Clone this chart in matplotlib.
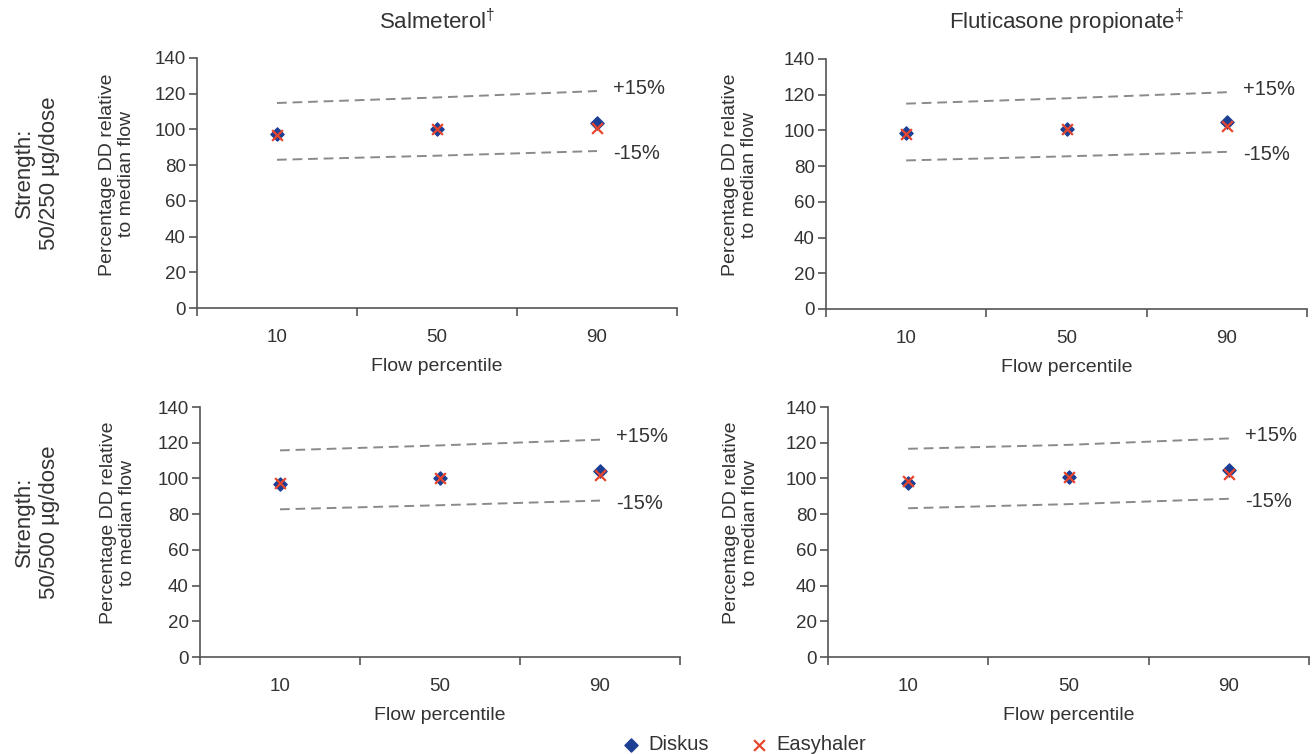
import matplotlib
matplotlib.use("Agg")
import matplotlib.pyplot as plt

plt.rcParams['font.family'] = ['Liberation Sans', 'DejaVu Sans']
plt.rcParams['mathtext.fontset'] = 'custom'
plt.rcParams['mathtext.rm'] = 'Liberation Sans'

percentiles = ["10", "50", "90"]
drugs = ["Salmeterol$^{\\dagger}$", "Fluticasone propionate$^{\\ddagger}$"]
strengths = ["Strength:\n50/250 \u00b5g/dose", "Strength:\n50/500 \u00b5g/dose"]

# Diskus / Easyhaler, percent delivered dose relative to median flow
diskus_sal_250 = [97.6, 100.0, 103.8]
easy_sal_250 = [97.0, 100.0, 100.8]
diskus_flu_250 = [98.3, 100.6, 104.9]
easy_flu_250 = [98.0, 100.6, 102.7]
diskus_sal_500 = [97.0, 100.1, 103.9]
easy_sal_500 = [97.5, 100.1, 101.8]
diskus_flu_500 = [97.7, 100.7, 104.8]
easy_flu_500 = [98.8, 100.7, 102.6]

# +/-15% limits
upper_sal_250 = [114.8, 117.9, 121.5]
lower_sal_250 = [83.0, 85.3, 87.9]
upper_flu_250 = [115.0, 118.0, 121.4]
lower_flu_250 = [83.2, 85.5, 88.0]
upper_sal_500 = [115.7, 118.5, 121.7]
lower_sal_500 = [82.7, 85.0, 87.6]
upper_flu_500 = [116.6, 118.8, 122.4]
lower_flu_500 = [83.3, 85.6, 88.6]

panels = [
    (diskus_sal_250, easy_sal_250, upper_sal_250, lower_sal_250),
    (diskus_flu_250, easy_flu_250, upper_flu_250, lower_flu_250),
    (diskus_sal_500, easy_sal_500, upper_sal_500, lower_sal_500),
    (diskus_flu_500, easy_flu_500, upper_flu_500, lower_flu_500),
]

W, H = 1314, 754
# axes boxes in pixels: left, top(y of 140), right, bottom(y of 0)
boxes = [
    (197, 58, 677, 308),
    (826, 59, 1307, 309),
    (200, 407, 680, 657),
    (828, 407, 1309, 657),
]
ylabel_x = [135, 758, 136, 759]

txt = "#333333"
axc = "#555555"
blue = "#1c3f94"
red = "#e8452c"

fig = plt.figure(figsize=(W / 100, H / 100), dpi=100)

x = list(range(len(percentiles)))
for i, (dk, ez, up, lo) in enumerate(panels):
    l, t, r, b = boxes[i]
    ax = fig.add_axes([l / W, 1 - b / H, (r - l) / W, (b - t) / H])
    ax.plot(x, up, ls=(0, (5, 3)), color="#8a8a8a", lw=1.4)
    ax.plot(x, lo, ls=(0, (5, 3)), color="#8a8a8a", lw=1.4)
    ax.scatter(x, dk, marker="D", s=45, color=blue, zorder=3, label="Diskus")
    ax.scatter(x, ez, marker="x", s=60, color=red, lw=1.6, zorder=4, label="Easyhaler")
    ax.text(2.1, up[-1] + 1.5, "+15%", fontsize=14.5, color=txt, ha="left", va="center")
    ax.text(2.1, lo[-1] - 1.5, "-15%", fontsize=14.5, color=txt, ha="left", va="center")

    ax.set_xlim(-0.5, 2.5)
    ax.set_ylim(0, 140)
    ax.set_yticks(range(0, 141, 20))
    ax.set_xticks(x)
    ax.set_xticklabels(percentiles)
    ax.set_xticks([-0.5, 0.5, 1.5, 2.5], minor=True)
    ax.tick_params(axis="x", which="major", length=0, pad=15, labelsize=13.5, labelcolor=txt)
    ax.tick_params(axis="x", which="minor", length=6, width=1.2, color=axc, direction="out")
    ax.tick_params(axis="y", length=6, width=1.2, color=axc, labelsize=13.5, labelcolor=txt, pad=2)
    for s in ["top", "right"]:
        ax.spines[s].set_visible(False)
    for s in ["left", "bottom"]:
        ax.spines[s].set_color(axc)
        ax.spines[s].set_linewidth(1.2)
    ax.set_xlabel("Flow percentile", fontsize=14, color=txt, labelpad=9)
    ax.set_ylabel("Percentage DD relative\nto median flow", fontsize=14, color=txt,
                  linespacing=1.15)
    ax.yaxis.set_label_coords((ylabel_x[i] - l) / (r - l), 0.535)

    if i < 2:
        fig.text((l + r) / 2 / W, 1 - 22 / H, drugs[i], fontsize=16, color=txt,
                 ha="center", va="center")
    if i % 2 == 0:
        fig.text(37 / W, 1 - ((t + b) / 2 - 10) / H, strengths[i // 2], rotation=90,
                 fontsize=16, color=txt, ha="center", va="center", multialignment="center",
                 linespacing=1.2)
    if i == 0:
        handles, labels = ax.get_legend_handles_labels()

fig.legend(handles, labels, loc="center", bbox_to_anchor=(741 / W, 1 - 745 / H), ncol=2,
           frameon=False, fontsize=14.5, handletextpad=0.15, columnspacing=1.7,
           labelcolor=txt, scatterpoints=1, handlelength=1.5)

fig.savefig("out.png", dpi=100)
